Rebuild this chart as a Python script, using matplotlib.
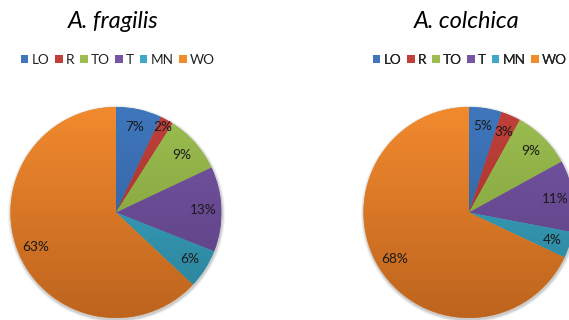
import numpy as np
import matplotlib
matplotlib.use("Agg")
import matplotlib.pyplot as plt
from matplotlib.colors import to_rgb
from matplotlib.patches import Circle

categories = ["LO", "R", "TO", "T", "MN", "WO"]
fragilis = [7, 2, 9, 13, 6, 63]
colchica = [5, 3, 9, 11, 4, 68]
titles = ["A. fragilis", "A. colchica"]

top_colors = ["#3F76BC", "#C0403A", "#9CBD50", "#7656A4", "#3FAAC6", "#F28A2E"]
bottom_colors = ["#2E5C96", "#9A2E2A", "#7A9A38", "#5A3E80", "#2A8199", "#BD641E"]

plt.rcParams['font.family'] = ['Lato', 'DejaVu Sans']

W, H = 569, 320
fig = plt.figure(figsize=(W / 100, H / 100), dpi=100)
ax = fig.add_axes([0, 0, 1, 1])
ax.set_xlim(0, W)
ax.set_ylim(0, H)
ax.set_aspect('equal')
ax.axis('off')

pies = [
    dict(values=fragilis, center=(116, 107.5), radius=105.5, title_x=113, legend_x=118),
    dict(values=colchica, center=(469, 107.5), radius=105.5, title_x=467, legend_x=470),
]

for p, title in zip(pies, titles):
    cx, cy = p["center"]
    r = p["radius"]
    # soft shadow
    for k, a in [(3.0, 0.05), (2.0, 0.07), (1.0, 0.09)]:
        ax.add_patch(Circle((cx + 0.5, cy - 1.5), r + k, color="black", alpha=a, lw=0, zorder=0))
    wedges, texts = ax.pie(p["values"], colors=top_colors, startangle=90, counterclock=False,
                           center=(cx, cy), radius=r, frame=True,
                           wedgeprops=dict(linewidth=0))
    ax.set_xlim(0, W)
    ax.set_ylim(0, H)
    ax.axis('off')
    n = 200
    tvals = np.linspace(0, 1, n)[:, None]
    for w, ct, cb in zip(wedges, top_colors, bottom_colors):
        ct, cb = np.array(to_rgb(ct)), np.array(to_rgb(cb))
        img = (1 - tvals)[:, :, None] * ct[None, None, :] + tvals[:, :, None] * cb[None, None, :]
        img = np.repeat(img, 2, axis=1)
        im = ax.imshow(img, extent=(cx - r, cx + r, cy - r, cy + r), origin='upper',
                       interpolation='bilinear', zorder=2, aspect='auto')
        im.set_clip_path(w)
    # labels
    total = sum(p["values"])
    for w, v in zip(wedges, p["values"]):
        mid = np.deg2rad((w.theta1 + w.theta2) / 2)
        d = 0.92 if v / total < 0.025 else 0.83
        ax.text(cx + d * r * np.cos(mid), cy + d * r * np.sin(mid), f"{v}%",
                ha='center', va='center', fontsize=9.8, color="#1a1a1a", zorder=5)
    ax.text(p["title_x"], H - 21, title, ha='center', va='center', fontsize=17,
            style='italic', color="black")
    leg = ax.legend(wedges, categories, ncol=6, loc='center',
                    bbox_to_anchor=(p["legend_x"] / W, 1 - 60 / H),
                    frameon=False, fontsize=9.8, handlelength=0.55, handleheight=0.55,
                    handletextpad=0.25, columnspacing=0.4, borderpad=0, borderaxespad=0)
    for t in leg.get_texts():
        t.set_color("#222222")
    ax.add_artist(leg)

fig.savefig("out.png", dpi=100)
